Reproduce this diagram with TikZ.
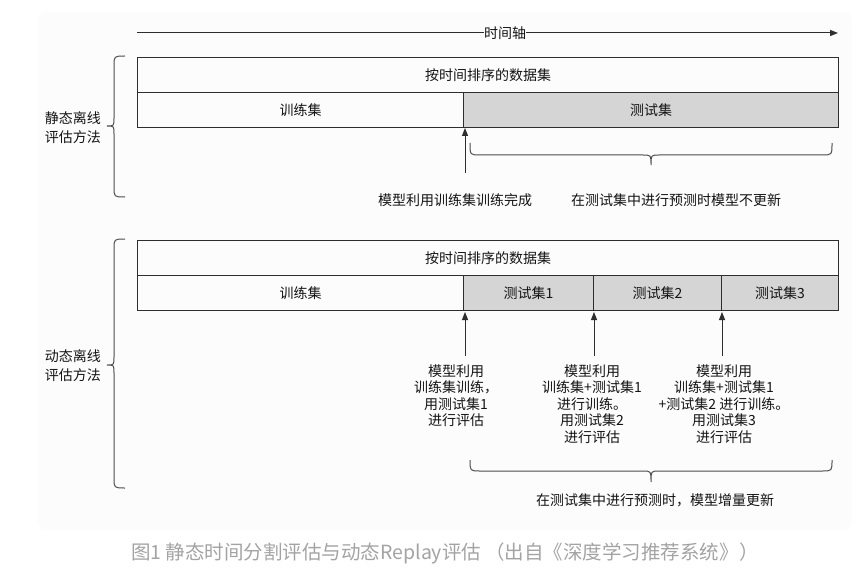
\documentclass[tikz,border=0pt]{standalone}
\usepackage{fontspec}
\setmainfont{Noto Sans CJK SC}
\usetikzlibrary{arrows.meta}
\definecolor{panel}{HTML}{FCFCFC}
\definecolor{testfill}{HTML}{D5D5D5}
\definecolor{linec}{HTML}{2E2E2E}
\definecolor{capc}{HTML}{A3A3A3}
\begin{document}
\begin{tikzpicture}[x=1pt,y=-1pt,
  txt/.style={font=\fontsize{14}{16.5}\selectfont, text=black!92, inner sep=0pt},
  cell/.style={draw=linec, line width=1.1pt, anchor=north west, inner sep=0pt, txt, minimum height=35pt},
  testcell/.style={cell, fill=testfill},
  arr/.style={draw=linec, line width=1pt, -{Triangle[length=8pt,width=6pt]}},
  bracec/.style={draw=black!70, line width=1pt},
  sidelab/.style={txt, align=right, anchor=east, font=\fontsize{14}{19}\selectfont},
  ]
\useasboundingbox (0,0) rectangle (858,572);
\fill[panel, rounded corners=8pt] (38,12) rectangle (852,530);

% time axis
\coordinate (ts) at (137,33);
\coordinate (te) at (838,33);
\node[txt] (tl) at (505,33) {时间轴};
\draw[linec, line width=1pt] (ts) -- (tl.west);
\draw[arr] (tl.east) -- (te);

% static
\node[cell, minimum width=701pt] (sall) at (137,57) {按时间排序的数据集};
\node[cell, minimum width=326pt] (strain) at (137,92) {训练集};
\node[testcell, minimum width=375pt] (stest) at (463,92) {测试集};

\node[sidelab] (slab) at (101,127.5) {静态离线\\评估方法};
\draw[bracec] (125,56) .. controls (114,56) .. (114,66) -- (114,118) .. controls (114,126) .. (107,126) .. controls (114,126) .. (114,134) -- (114,187) .. controls (114,197) .. (125,197);

\coordinate (sa0) at (465,173);
\coordinate (sa1) at (465,128);
\draw[arr] (sa0) -- (sa1);
\draw[bracec] (470,143) .. controls (470,155) .. (480,155) -- (643,155) .. controls (651,155) .. (651,165) .. controls (651,155) .. (659,155) -- (822,155) .. controls (832,155) .. (832,143);

\node[txt] (sl1) at (455,200) {模型利用训练集训练完成};
\node[txt] (sl2) at (676,200) {在测试集中进行预测时模型不更新};

% dynamic
\node[cell, minimum width=701pt] (dall) at (137,240) {按时间排序的数据集};
\node[cell, minimum width=326pt] (dtrain) at (137,275) {训练集};
\node[testcell, minimum width=130pt] (dt1) at (463,275) {测试集1};
\node[testcell, minimum width=128pt] (dt2) at (593,275) {测试集2};
\node[testcell, minimum width=117pt] (dt3) at (721,275) {测试集3};

\node[sidelab] (dlab) at (101,366) {动态离线\\评估方法};
\draw[bracec] (125,239) .. controls (114,239) .. (114,249) -- (114,357) .. controls (114,365) .. (107,365) .. controls (114,365) .. (114,373) -- (114,478) .. controls (114,488) .. (125,488);

\coordinate (da0) at (465,356);
\coordinate (da1) at (465,312);
\coordinate (db0) at (594,356);
\coordinate (db1) at (594,312);
\coordinate (dc0) at (722,356);
\coordinate (dc1) at (722,312);
\draw[arr] (da0) -- (da1);
\draw[arr] (db0) -- (db1);
\draw[arr] (dc0) -- (dc1);

\node[txt, align=center] (dl1) at (456,395.5) {模型利用\\训练集训练，\\用测试集1\\进行评估};
\node[txt, align=center] (dl2) at (592,404) {模型利用\\训练集+测试集1\\进行训练。\\用测试集2\\进行评估};
\node[txt, align=center] (dl3) at (724,404) {模型利用\\训练集+测试集1\\+测试集2 进行训练。\\用测试集3\\进行评估};

\draw[bracec] (470,460) .. controls (470,471) .. (480,471) -- (643,471) .. controls (651,471) .. (651,482) .. controls (651,471) .. (659,471) -- (822,471) .. controls (832,471) .. (832,460);
\node[txt] (dl4) at (655,500) {在测试集中进行预测时，模型增量更新};

% caption
\node[anchor=west, text=capc, font=\fontsize{19.5}{22}\selectfont, inner sep=0pt] (cap) at (131,553) {图1 静态时间分割评估与动态Replay评估 （出自《深度学习推荐系统》）};
\end{tikzpicture}
\end{document}
